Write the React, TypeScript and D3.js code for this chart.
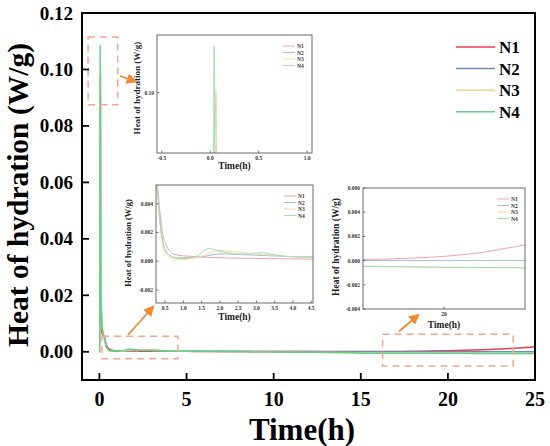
import React from 'react';
import * as d3 from 'd3';

const TIME = [0, 0.02, 0.04, 0.06, 0.08, 0.1, 0.13, 0.16, 0.2, 0.25, 0.3, 0.35, 0.4, 0.45, 0.5, 0.6, 0.7, 0.8, 0.9, 1.0, 1.2, 1.4, 1.6, 1.7, 1.8, 2.0, 2.2, 2.4, 2.6, 2.8, 3.0, 3.2, 3.4, 3.6, 3.8, 4.0, 4.5, 5, 6, 8, 10, 12, 14, 16, 17, 18, 19, 20, 21, 22, 23, 24, 25];

const N1 = [0, 0, 0.0297, 0.022, 0.016, 0.012, 0.008, 0.0065, 0.0058, 0.0055, 0.005, 0.0036, 0.0025, 0.0017, 0.0013, 0.0008, 0.00055, 0.00045, 0.0004, 0.00038, 0.00034, 0.0003, 0.00028, 0.00027, 0.00026, 0.00025, 0.00023, 0.00022, 0.00021, 0.0002, 0.0002, 0.00019, 0.00018, 0.00018, 0.00017, 0.00016, 0.00015, 0.00014, 0.00012, 0.0001, 0.0001, 0.0001, 0.0001, 0.0001, 0.00012, 0.00018, 0.00025, 0.00035, 0.0005, 0.0007, 0.001, 0.0013, 0.0018];
const N2 = [0, 0, 0.09, 0.098, 0.035, 0.02, 0.012, 0.0085, 0.0068, 0.0057, 0.0047, 0.003, 0.0019, 0.0012, 0.0008, 0.00045, 0.0003, 0.00025, 0.00025, 0.00025, 0.00027, 0.0003, 0.00035, 0.0004, 0.00045, 0.0005, 0.0005, 0.00048, 0.00046, 0.00044, 0.00042, 0.0004, 0.00038, 0.00036, 0.00034, 0.00032, 0.0003, 0.00028, 0.00022, 0.00015, 0.0001, 0.00006, 0.00003, 0.00001, 0, 0, 0, 0, 0, 0, 0, 0, 0];
const N3 = [0, 0, 0.085, 0.1005, 0.04, 0.022, 0.013, 0.009, 0.007, 0.0058, 0.0046, 0.0029, 0.0017, 0.001, 0.0006, 0.0003, 0.0002, 0.00015, 0.00012, 0.00012, 0.00018, 0.00028, 0.00045, 0.00055, 0.00065, 0.00075, 0.00072, 0.00066, 0.0006, 0.00055, 0.0005, 0.00047, 0.00043, 0.0004, 0.00036, 0.00032, 0.00025, 0.0002, 0.0001, -0.00005, -0.00015, -0.00025, -0.00035, -0.00045, -0.00048, -0.0005, -0.00052, -0.00054, -0.00056, -0.00058, -0.00059, -0.0006, -0.0006];
const N4 = [0, 0, 0.1085, 0.055, 0.028, 0.016, 0.011, 0.0085, 0.0068, 0.0057, 0.0046, 0.003, 0.0018, 0.0012, 0.0008, 0.00045, 0.0003, 0.00022, 0.0002, 0.0002, 0.00025, 0.0004, 0.0008, 0.00088, 0.00085, 0.0007, 0.0006, 0.00052, 0.0005, 0.00052, 0.00058, 0.0006, 0.0005, 0.0004, 0.00034, 0.0003, 0.0003, 0.00025, 0.00015, 0, -0.0001, -0.0002, -0.0003, -0.0005, -0.0005, -0.00052, -0.00054, -0.00055, -0.00056, -0.00057, -0.00058, -0.0006, -0.0006];

const SERIES_NAMES = ['N1', 'N2', 'N3', 'N4'];
const SERIES_VALUES = [N1, N2, N3, N4];
const MAIN_COLORS = ['#ee3b4f', '#6b8fb4', '#f6d57e', '#5cd28c'];
const INSET_COLORS = ['#f4a0b0', '#a7bdd6', '#f7d9a0', '#9be0b4'];

const MAIN_X_TICKS = [0, 5, 10, 15, 20, 25];
const MAIN_Y_TICKS = [0, 0.02, 0.04, 0.06, 0.08, 0.1, 0.12];

const INSET1_X_TICKS = [-0.5, 0, 0.5, 1.0];
const INSET1_Y_TICKS = [0.1];
const INSET2_X_TICKS = [0.5, 1.0, 1.5, 2.0, 2.5, 3.0, 3.5, 4.0, 4.5];
const INSET2_Y_TICKS = [-0.002, 0, 0.002, 0.004];
const INSET3_X_TICKS = [20];
const INSET3_Y_TICKS = [-0.004, -0.002, 0, 0.002, 0.004, 0.006];

const FONT = '"Liberation Serif", "Times New Roman", "DejaVu Serif", serif';

type InsetProps = {
  id: string;
  left: number; right: number; top: number; bottom: number;
  xDomain: [number, number]; yDomain: [number, number];
  xTicks: number[]; yTicks: number[];
  xFmt: (v: number) => string; yFmt: (v: number) => string;
  legendX: number; legendY: number;
  yTitleX: number; yTitleY: number; yTitleSize: number;
  xTitleY: number;
};

function fmtMinus(f: (v: number) => string) {
  return (v: number) => f(v).replace('−', '-');
}

function Inset(p: InsetProps) {
  const x = d3.scaleLinear().domain(p.xDomain).range([p.left, p.right]);
  const y = d3.scaleLinear().domain(p.yDomain).range([p.bottom, p.top]);
  const line = d3.line<number>().x((_, i) => x(TIME[i])).y((d) => y(d)).curve(d3.curveMonotoneX);
  const cx = (p.left + p.right) / 2;
  return (
    <g>
      <defs>
        <clipPath id={p.id}>
          <rect x={p.left} y={p.top} width={p.right - p.left} height={p.bottom - p.top} />
        </clipPath>
      </defs>
      <rect x={p.left} y={p.top} width={p.right - p.left} height={p.bottom - p.top} fill="#fff" />
      <g clipPath={`url(#${p.id})`}>
        {SERIES_VALUES.map((vals, i) => (
          <path key={i} d={line(vals) || ''} fill="none" stroke={INSET_COLORS[i]} strokeWidth={1} />
        ))}
      </g>
      <rect x={p.left} y={p.top} width={p.right - p.left} height={p.bottom - p.top} fill="none" stroke="#6b6b6b" strokeWidth={1} />
      {p.xTicks.map((t) => (
        <g key={'x' + t}>
          <line x1={x(t)} x2={x(t)} y1={p.bottom} y2={p.bottom - 2.5} stroke="#555" strokeWidth={0.8} />
          <text x={x(t)} y={p.bottom + 7} fontSize={5.5} fontWeight="bold" textAnchor="middle" fill="#333" style={{ fontFamily: FONT }}>{p.xFmt(t)}</text>
        </g>
      ))}
      {p.yTicks.map((t) => (
        <g key={'y' + t}>
          <line x1={p.left} x2={p.left + 2.5} y1={y(t)} y2={y(t)} stroke="#555" strokeWidth={0.8} />
          <text x={p.left - 3} y={y(t) + 2} fontSize={5.5} fontWeight="bold" textAnchor="end" fill="#333" style={{ fontFamily: FONT }}>{p.yFmt(t)}</text>
        </g>
      ))}
      {SERIES_NAMES.map((n, i) => (
        <g key={n}>
          <line x1={p.legendX} x2={p.legendX + 12} y1={p.legendY + i * 6.5} y2={p.legendY + i * 6.5} stroke={INSET_COLORS[i]} strokeWidth={1} />
          <text x={p.legendX + 14} y={p.legendY + i * 6.5 + 2} fontSize={5.5} fontWeight="bold" fill="#333" style={{ fontFamily: FONT }}>{n}</text>
        </g>
      ))}
      <text x={cx} y={p.xTitleY} fontSize={9.5} fontWeight="bold" textAnchor="middle" fill="#222" style={{ fontFamily: FONT }}>Time(h)</text>
      <text transform={`translate(${p.yTitleX},${p.yTitleY}) rotate(-90)`} fontSize={p.yTitleSize} fontWeight="bold" textAnchor="middle" fill="#222" style={{ fontFamily: FONT }}>Heat of hydration (W/g)</text>
    </g>
  );
}

function Arrow({ x1, y1, x2, y2 }: { x1: number; y1: number; x2: number; y2: number }) {
  return <line x1={x1} y1={y1} x2={x2} y2={y2} stroke="#f28a2e" strokeWidth={1.8} markerEnd="url(#arrowhead)" />;
}

export default function App() {
  const W = 550, H = 446;
  const left = 82, right = 535, top = 13, bottom = 380;
  const x = d3.scaleLinear().domain([-1, 25]).range([left, right]);
  const y = d3.scaleLinear().domain([-0.01, 0.12]).range([bottom, top]);
  const line = d3.line<number>().x((_, i) => x(TIME[i])).y((d) => y(d)).curve(d3.curveMonotoneX);

  const boxes = [
    { x0: -0.65, x1: 1.05, y0: 0.0875, y1: 0.1115 },
    { x0: 0.15, x1: 4.5, y0: -0.0025, y1: 0.0055 },
    { x0: 16.25, x1: 23.75, y0: -0.005, y1: 0.0062 },
  ];

  return (
    <svg width={W} height={H} style={{ position: 'absolute', left: 0, top: 0, background: '#fff', fontFamily: FONT }}>
      <defs>
        <marker id="arrowhead" markerWidth="6" markerHeight="6" refX="4" refY="3" orient="auto" markerUnits="strokeWidth">
          <path d="M0,0 L6,3 L0,6 Z" fill="#f28a2e" />
        </marker>
        <clipPath id="mainclip">
          <rect x={left} y={top} width={right - left} height={bottom - top} />
        </clipPath>
      </defs>
      <rect x={0} y={0} width={W} height={H} fill="#fff" />

      <g clipPath="url(#mainclip)">
        {SERIES_VALUES.map((vals, i) => (
          <path key={i} d={line(vals) || ''} fill="none" stroke={MAIN_COLORS[i]} strokeWidth={1.5} />
        ))}
      </g>

      {boxes.map((b, i) => (
        <rect key={i} x={x(b.x0)} y={y(b.y1)} width={x(b.x1) - x(b.x0)} height={y(b.y0) - y(b.y1)} fill="none" stroke="#f5a58c" strokeWidth={1.5} strokeDasharray="7,5" />
      ))}

      <Arrow x1={120} y1={76} x2={134} y2={81} />
      <Arrow x1={128} y1={335} x2={152} y2={308} />
      <Arrow x1={399} y1={331.5} x2={417} y2={316} />

      <Inset id="in1" left={157} right={312} top={35} bottom={153}
        xDomain={[-0.55, 1.05]} yDomain={[0.089, 0.1105]}
        xTicks={INSET1_X_TICKS} yTicks={INSET1_Y_TICKS}
        xFmt={fmtMinus(d3.format('.1f'))} yFmt={fmtMinus(d3.format('.2f'))}
        legendX={283} legendY={46}
        yTitleX={140} yTitleY={88} yTitleSize={9}
        xTitleY={169} />
      <Inset id="in2" left={156} right={313} top={185} bottom={303}
        xDomain={[0.25, 4.55]} yDomain={[-0.0029, 0.0053]}
        xTicks={INSET2_X_TICKS} yTicks={INSET2_Y_TICKS}
        xFmt={fmtMinus(d3.format('.1f'))} yFmt={fmtMinus(d3.format('.3f'))}
        legendX={284} legendY={196}
        yTitleX={131} yTitleY={243} yTitleSize={8.5}
        xTitleY={320} />
      <Inset id="in3" left={363} right={525} top={188} bottom={309}
        xDomain={[16, 24]} yDomain={[-0.004, 0.006]}
        xTicks={INSET3_X_TICKS} yTicks={INSET3_Y_TICKS}
        xFmt={(v) => String(v)} yFmt={fmtMinus(d3.format('.3f'))}
        legendX={497} legendY={199}
        yTitleX={339} yTitleY={247} yTitleSize={9.5}
        xTitleY={328} />

      <rect x={left} y={top} width={right - left} height={bottom - top} fill="none" stroke="#000" strokeWidth={2} />

      {MAIN_X_TICKS.map((t) => (
        <g key={'mx' + t}>
          <line x1={x(t)} x2={x(t)} y1={bottom} y2={bottom - 7} stroke="#000" strokeWidth={1.8} />
          <text x={x(t)} y={406} fontSize={20} fontWeight="bold" textAnchor="middle" style={{ fontFamily: FONT }}>{t}</text>
        </g>
      ))}
      {MAIN_Y_TICKS.map((t) => (
        <g key={'my' + t}>
          <line x1={left} x2={left + 7} y1={y(t)} y2={y(t)} stroke="#000" strokeWidth={1.8} />
          <text x={left - 9} y={y(t) + 6.5} fontSize={19} fontWeight="bold" textAnchor="end" style={{ fontFamily: FONT }}>{d3.format('.2f')(t)}</text>
        </g>
      ))}

      {SERIES_NAMES.map((n, i) => (
        <g key={n}>
          <line x1={456} x2={495} y1={47 + i * 21.6} y2={47 + i * 21.6} stroke={MAIN_COLORS[i]} strokeWidth={1.5} />
          <text x={499} y={47 + i * 21.6 + 6} fontSize={17} fontWeight="bold" style={{ fontFamily: FONT }}>{n}</text>
        </g>
      ))}

      <text x={302} y={440} fontSize={31} fontWeight="bold" textAnchor="middle" style={{ fontFamily: FONT }}>Time(h)</text>
      <text transform="translate(28,195) rotate(-90)" fontSize={29.5} fontWeight="bold" textAnchor="middle" style={{ fontFamily: FONT }}>Heat of hydration (W/g)</text>
    </svg>
  );
}
